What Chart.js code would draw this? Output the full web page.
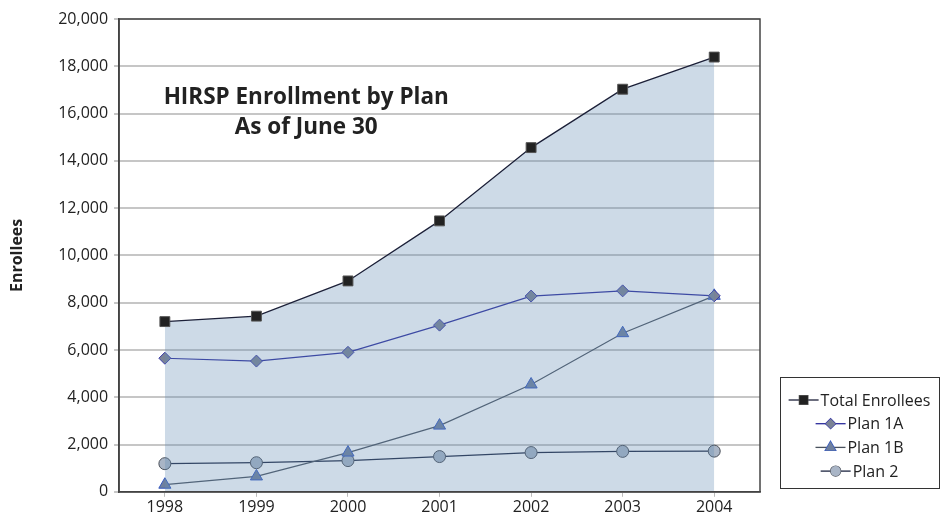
<!DOCTYPE html>
<html>
<head>
<meta charset="utf-8">
<script src="https://cdn.jsdelivr.net/npm/chart.js@4/dist/chart.umd.min.js"></script>
<style>
  html, body { margin: 0; padding: 0; background: #fff; }
  #wrap { width: 940px; height: 518px; position: relative; }
</style>
</head>
<body>
<div id="wrap"><canvas id="grafico"></canvas></div>
<script>
const years = ['1998', '1999', '2000', '2001', '2002', '2003', '2004'];
const totalEnrollees = [7200, 7430, 8920, 11460, 14560, 17030, 18390];
const plan1A = [5650, 5530, 5900, 7050, 8280, 8500, 8290];
const plan1B = [300, 650, 1660, 2800, 4540, 6710, 8290];
const plan2 = [1190, 1230, 1320, 1490, 1660, 1710, 1720];

const titleLines = ['HIRSP Enrollment by Plan', 'As of June 30'];
const fontFam = "'Open Sans', 'Noto Sans', sans-serif";

// title inside the plot + framed legend at the lower right
const extras = {
  id: 'extras',
  afterDraw(chart) {
    const ctx = chart.ctx;
    const a = chart.chartArea;
    ctx.save();
    // frame around plot area
    ctx.strokeStyle = '#444';
    ctx.lineWidth = 1.5;
    ctx.strokeRect(a.left, a.top, a.right - a.left, a.bottom - a.top);

    // title
    ctx.fillStyle = '#222';
    ctx.font = 'bold 22.5px ' + fontFam;
    ctx.textAlign = 'center';
    ctx.textBaseline = 'middle';
    const cx = a.left + (a.right - a.left) * 0.292;
    ctx.fillText(titleLines[0], cx, a.top + 79);
    ctx.fillText(titleLines[1], cx, a.top + 109);

    // legend box
    const bx = 780, by = 377, bw = 159, bh = 111;
    ctx.lineWidth = 1;
    ctx.strokeStyle = '#333';
    ctx.strokeRect(bx + 0.5, by + 0.5, bw, bh);
    ctx.font = '16px ' + fontFam;
    ctx.textAlign = 'left';
    chart.data.datasets.forEach((ds, i) => {
      const y = by + 23 + i * 23.7;
      const tw = ctx.measureText(ds.label).width;
      const total = 30 + 2 + tw;
      const x0 = bx + (bw - total) / 2;
      ctx.strokeStyle = ds.borderColor;
      ctx.lineWidth = 1.3;
      ctx.beginPath();
      ctx.moveTo(x0, y);
      ctx.lineTo(x0 + 30, y);
      ctx.stroke();
      ctx.fillStyle = ds.pointBackgroundColor;
      ctx.strokeStyle = ds.pointBorderColor;
      Chart.helpers.drawPoint(ctx, {pointStyle: ds.pointStyle, radius: ds.pointRadius - 1, borderWidth: 1, rotation: 0}, x0 + 15, y);
      ctx.fill();
      ctx.fillStyle = '#222';
      ctx.fillText(ds.label, x0 + 32, y + 1);
    });
    ctx.restore();
  }
};

new Chart(document.getElementById('grafico'), {
  type: 'line',
  data: {
    labels: years,
    datasets: [
      {
        label: 'Total Enrollees',
        data: totalEnrollees,
        borderColor: '#1c2038',
        borderWidth: 1.3,
        backgroundColor: 'rgba(100,140,180,0.32)',
        fill: 'origin',
        pointStyle: 'rect',
        pointRadius: 7,
        pointBackgroundColor: '#222',
        pointBorderColor: '#555',
        pointBorderWidth: 1
      },
      {
        label: 'Plan 1A',
        data: plan1A,
        borderColor: '#2c2c9c',
        borderWidth: 1.2,
        fill: false,
        pointStyle: 'rectRot',
        pointRadius: 6,
        pointBackgroundColor: '#7b8396',
        pointBorderColor: '#3a3aa8',
        pointBorderWidth: 1
      },
      {
        label: 'Plan 1B',
        data: plan1B,
        borderColor: '#4a525e',
        borderWidth: 1.2,
        fill: false,
        pointStyle: 'triangle',
        pointRadius: 7,
        pointBackgroundColor: '#6f809e',
        pointBorderColor: '#3458c0',
        pointBorderWidth: 1
      },
      {
        label: 'Plan 2',
        data: plan2,
        borderColor: '#1c2540',
        borderWidth: 1.3,
        fill: false,
        pointStyle: 'circle',
        pointRadius: 6,
        pointBackgroundColor: '#a9b5c6',
        pointBorderColor: '#4a4f58',
        pointBorderWidth: 1
      }
    ]
  },
  options: {
    responsive: true,
    maintainAspectRatio: false,
    animation: false,
    layout: { padding: { top: 19, right: 180, left: 8, bottom: 0 } },
    plugins: {
      legend: { display: false },
      tooltip: { enabled: false }
    },
    scales: {
      x: {
        offset: true,
        grid: { drawOnChartArea: false, offset: false, color: '#bbb', tickLength: 5 },
        border: { color: '#444', width: 1.5 },
        ticks: { color: '#222', font: { size: 16, family: fontFam }, padding: 1 }
      },
      y: {
        min: 0,
        max: 20000,
        ticks: {
          stepSize: 2000,
          color: '#222',
          font: { size: 16, family: fontFam },
          padding: 6,
          callback: v => v.toLocaleString('en-US')
        },
        grid: { color: '#c6c6c6', lineWidth: 2, tickLength: 5 },
        border: { color: '#444', width: 1.5 },
        title: {
          display: true,
          text: 'Enrollees',
          color: '#222',
          font: { size: 16, weight: 'bold', family: fontFam },
          padding: { top: 0, bottom: 25 }
        }
      }
    }
  },
  plugins: [extras]
});
</script>
</body>
</html>
